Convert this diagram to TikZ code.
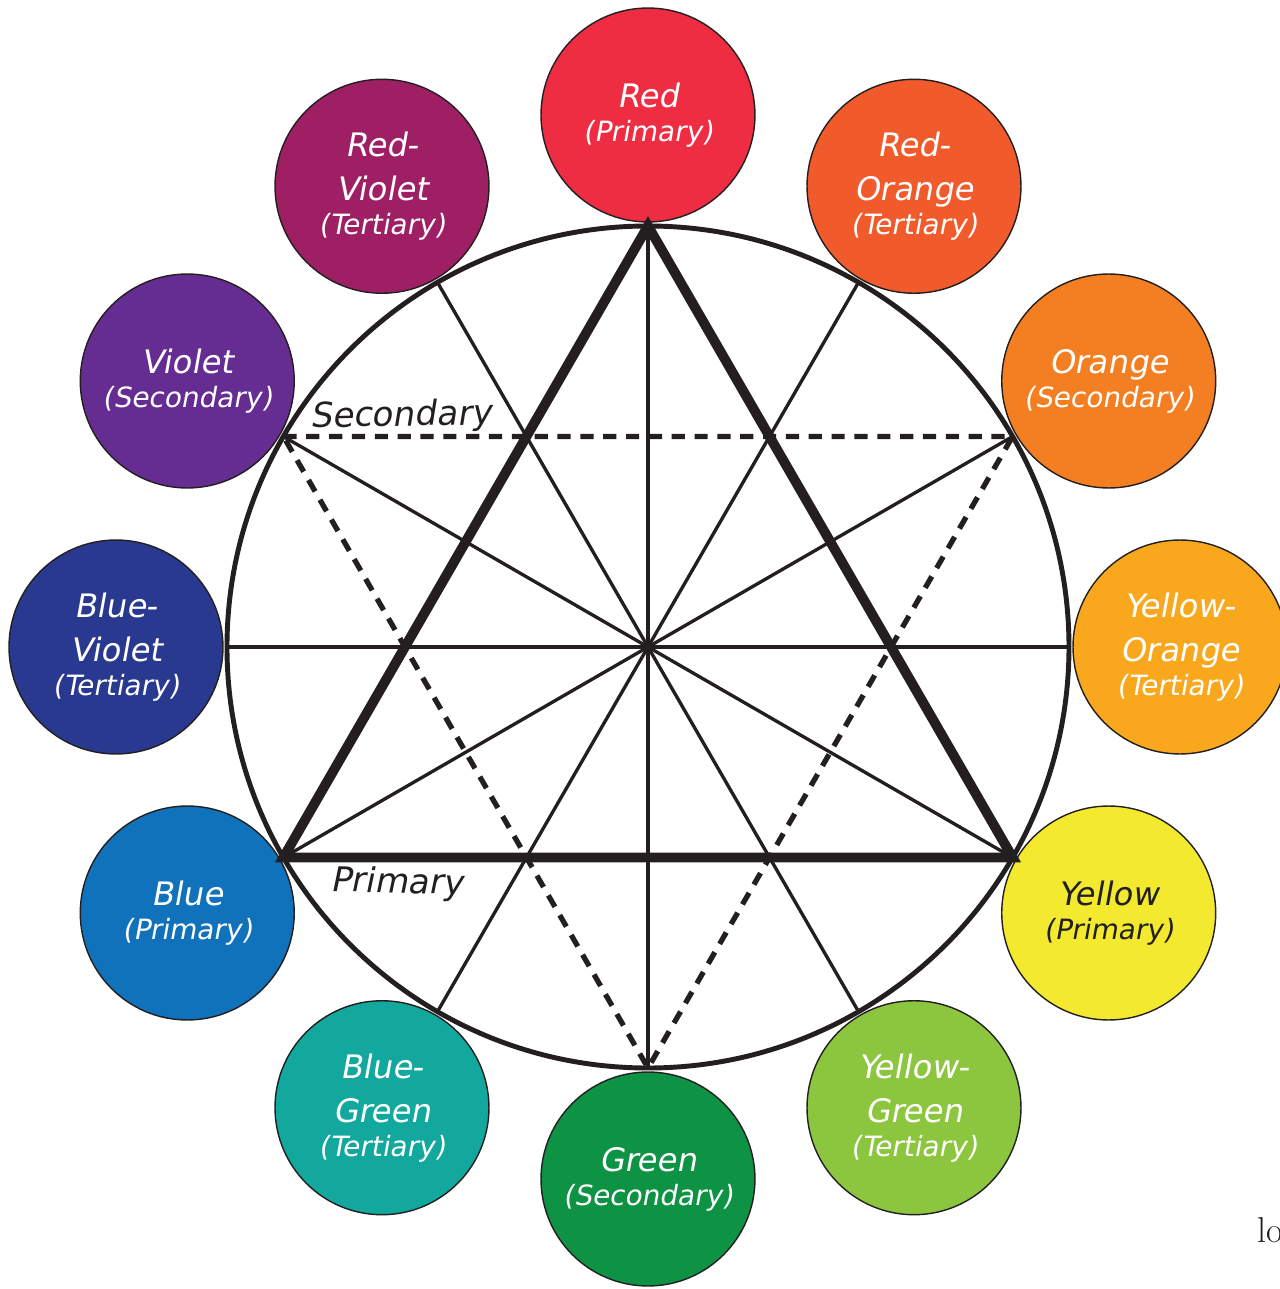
\documentclass[tikz,border=0pt]{standalone}
\usepackage{fontspec}
\newfontfamily\labf[FakeSlant=0.18]{DejaVu Sans}
\definecolor{cRed}{HTML}{EE2D43}
\definecolor{cRedOrange}{HTML}{F15A2B}
\definecolor{cOrange}{HTML}{F47F22}
\definecolor{cYellowOrange}{HTML}{F9A81E}
\definecolor{cYellow}{HTML}{F3EA2F}
\definecolor{cYellowGreen}{HTML}{8CC63F}
\definecolor{cGreen}{HTML}{0E9244}
\definecolor{cBlueGreen}{HTML}{12A89D}
\definecolor{cBlue}{HTML}{1072BA}
\definecolor{cBlueViolet}{HTML}{293990}
\definecolor{cViolet}{HTML}{652D91}
\definecolor{cRedViolet}{HTML}{9E1F63}
\definecolor{ink}{HTML}{231F20}
\newcommand\subl[1]{{\fontsize{15.9}{19}\selectfont #1}}
\begin{document}
\begin{tikzpicture}[x=0.02cm,y=0.02cm,
  swatch/.style={circle, draw=ink, line width=0.8pt, minimum size=4.28cm, inner sep=0pt,
    align=center, text=white, font=\labf\fontsize{18.4}{25}\selectfont},
  thinline/.style={draw=ink, line width=1.9pt},
  rim/.style={draw=ink, line width=2.8pt},
  primtri/.style={draw=ink, line width=5.6pt, line join=miter, miter limit=10},
  sectri/.style={draw=ink, line width=3pt, dash pattern=on 7.5pt off 5.5pt},
  lbl/.style={inner sep=0pt, text=ink, font=\labf\fontsize{19.5}{23}\selectfont}]
\useasboundingbox (-648,-642) rectangle (631,647);

% colour swatches
\node[swatch, fill=cRed] (red) at (90:532) {Red\\[-5.7pt]\subl{(Primary)}};
\node[swatch, fill=cRedOrange] (redorange) at (60:532) {Red-\\Orange\\[-5.7pt]\subl{(Tertiary)}};
\node[swatch, fill=cOrange] (orange) at (30:532) {Orange\\[-5.7pt]\subl{(Secondary)}};
\node[swatch, fill=cYellowOrange] (yelloworange) at (0:532) {Yellow-\\Orange\\[-5.7pt]\subl{(Tertiary)}};
\node[swatch, fill=cYellow, text=ink] (yellow) at (-30:532) {Yellow\\[-5.7pt]\subl{(Primary)}};
\node[swatch, fill=cYellowGreen] (yellowgreen) at (-60:532) {Yellow-\\Green\\[-5.7pt]\subl{(Tertiary)}};
\node[swatch, fill=cGreen] (green) at (-90:532) {Green\\[-5.7pt]\subl{(Secondary)}};
\node[swatch, fill=cBlueGreen] (bluegreen) at (-120:532) {Blue-\\Green\\[-5.7pt]\subl{(Tertiary)}};
\node[swatch, fill=cBlue] (blue) at (-150:532) {Blue\\[-5.7pt]\subl{(Primary)}};
\node[swatch, fill=cBlueViolet] (blueviolet) at (180:532) {Blue-\\Violet\\[-5.7pt]\subl{(Tertiary)}};
\node[swatch, fill=cViolet] (violet) at (150:532) {Violet\\[-5.7pt]\subl{(Secondary)}};
\node[swatch, fill=cRedViolet] (redviolet) at (120:532) {Red-\\Violet\\[-5.7pt]\subl{(Tertiary)}};

% wheel
\coordinate (c) at (0,0);
\foreach \a in {0,30,...,330} {\coordinate (v\a) at (\a:421);}
\foreach \a in {0,30,60,90,120,150} {
  \pgfmathtruncatemacro\b{\a+180}
  \draw[thinline] (v\a) -- (v\b);
}
\draw[rim] (c) circle[radius=421];
\draw[sectri] (v150) -- (v30) -- (v270) -- cycle;
\draw[primtri] (v90) -- (v210) -- (v330) -- cycle;

\node[lbl, anchor=base, rotate=1] (sec) at (-247,221) {Secondary};
\node[lbl, anchor=base, rotate=-1.5] (pri) at (-251,-246) {Primary};

\node[anchor=base west, inner sep=0pt, text=ink, font=\fontsize{20.5}{24}\selectfont] (lo) at (609,-595) {lo};
\end{tikzpicture}
\end{document}
